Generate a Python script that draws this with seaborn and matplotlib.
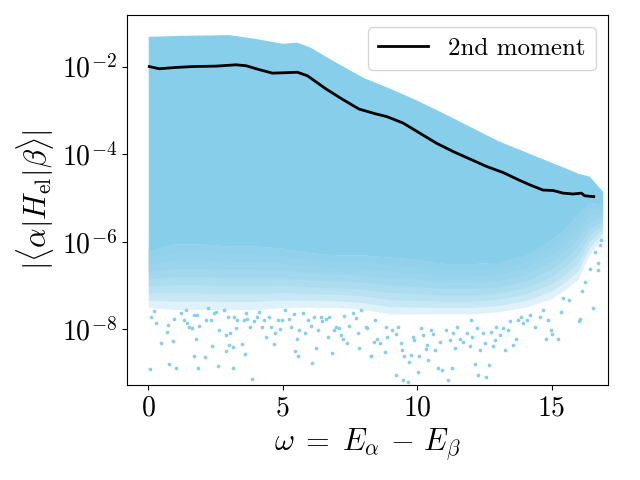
import numpy as np
import pandas as pd
import seaborn as sns
import matplotlib
matplotlib.use('Agg')
import matplotlib.pyplot as plt
from matplotlib.ticker import NullLocator

# envelope of the dense point cloud (log10 of |<a|H|b>|)
w_env = [0, 1, 2, 3, 4, 5, 5.5, 6, 7, 8, 9, 10, 11, 12, 13, 14, 15, 15.5, 16, 16.4, 16.9]
log_top = [-1.31, -1.29, -1.28, -1.27, -1.36, -1.47, -1.44, -1.55, -1.91, -2.25, -2.50,
           -2.77, -3.07, -3.38, -3.69, -3.94, -4.19, -4.31, -4.44, -4.50, -4.85]
# bottom of the solid part and bottom of the speckled fringe
log_solid = [-6.2, -6.05, -6.05, -6.1, -6.1, -6.15, -6.2, -6.25, -6.3, -6.3, -6.35,
             -6.4, -6.5, -6.5, -6.47, -6.32, -5.95, -5.7, -5.35, -5.1, -5.15]
log_fringe = [-7.5, -7.55, -7.55, -7.55, -7.55, -7.5, -7.5, -7.5, -7.5, -7.55, -7.65,
              -7.65, -7.65, -7.65, -7.6, -7.5, -7.3, -7.1, -6.85, -6.3, -5.9]

# sparse points below the cloud
tail_w = [0.075, 0.10, 0.22, 0.29, 0.48, 0.68, 0.72, 0.78, 0.93, 0.97, 1.03, 1.22, 1.34, 1.40,
          1.44, 1.53, 1.61, 1.69, 1.71, 1.77, 1.81, 1.86, 1.90, 2.11, 2.14, 2.21, 2.33, 2.38,
          2.45, 2.52, 2.60, 2.64, 2.83, 2.89, 2.91, 2.95, 3.01, 3.05, 3.14, 3.16, 3.20, 3.26,
          3.32, 3.50, 3.55, 3.61, 3.63, 3.69, 3.79, 3.85, 3.94, 4.04, 4.13, 4.23, 4.31, 4.38,
          4.50, 4.56, 4.69, 4.72, 4.81, 4.91, 4.99, 5.08, 5.22, 5.32, 5.43, 5.47, 5.53, 5.58,
          5.61, 5.74, 5.84, 5.93, 6.05, 6.10, 6.17, 6.25, 6.33, 6.42, 6.48, 6.61, 6.67, 6.73,
          6.83, 6.92, 7.00, 7.10, 7.16, 7.23, 7.29, 7.41, 7.47, 7.60, 7.72, 7.81, 7.85, 7.91,
          8.09, 8.15, 8.28, 8.40, 8.44,
          8.30, 8.49, 8.61, 8.80, 8.86, 8.89, 9.05, 9.21, 9.21, 9.30, 9.39, 9.42, 9.48, 9.52,
          9.67, 9.70, 9.79, 9.85, 9.89, 10.04, 10.08, 10.16, 10.22, 10.32, 10.37, 10.41, 10.53,
          10.60, 10.66, 10.78, 10.84, 10.91, 11.09, 11.15, 11.22, 11.28, 11.34, 11.40, 11.49,
          11.59, 11.69, 11.84, 11.96, 12.02, 12.06, 12.14, 12.21, 12.27, 12.33, 12.46, 12.52,
          12.58, 12.68, 12.73, 12.83, 12.89, 12.95, 13.08, 13.20, 13.26, 13.39, 13.45, 13.57,
          13.69, 13.76, 13.88, 13.94, 14.07, 14.19, 14.38, 14.56, 14.69, 14.78, 14.87, 14.99,
          15.03, 15.24, 15.37, 15.43, 15.65, 16.02, 16.05, 16.14, 16.23, 16.42, 16.54, 16.73,
          16.73, 16.62, 16.79, 16.85]
tail_logh = [-8.91, -7.71, -7.57, -7.86, -8.32, -8.06, -7.91, -8.80, -8.27, -7.77, -8.89, -7.63,
             -7.79, -7.56, -7.86, -7.94, -7.98, -8.61, -7.67, -8.21, -7.67, -8.89, -7.92, -8.64,
             -7.79, -7.52, -7.79, -8.38, -7.63, -7.60, -8.84, -8.02, -7.56, -8.13, -8.50, -7.71,
             -8.36, -8.09, -8.40, -8.89, -7.71, -7.98, -7.79, -8.34, -7.79, -8.57, -7.63, -7.76,
             -7.94, -9.14, -7.82, -7.71, -7.60, -7.94, -7.79, -8.17, -7.71, -7.94, -8.34, -8.09,
             -7.79, -8.00, -7.79, -7.56, -7.77, -7.94, -7.65, -8.49, -8.23, -8.62, -8.02, -7.63,
             -8.09, -7.79, -7.92, -8.78, -7.71, -8.43, -8.02, -7.71, -7.80, -7.77, -8.17, -7.71,
             -8.55, -8.02, -7.94, -7.98, -8.13, -8.23, -7.70, -8.32, -7.92, -7.62, -7.75, -8.09,
             -8.42, -7.56, -7.94, -7.98, -8.61, -8.28, -7.79,
             -8.62, -8.21, -8.32, -8.51, -7.95, -8.17, -8.02, -8.11, -9.04, -7.94, -8.32, -8.47,
             -9.16, -8.62, -9.21, -8.74, -8.59, -8.17, -8.24, -8.98, -8.62, -7.98, -8.13, -8.46,
             -8.36, -8.69, -8.02, -8.11, -8.47, -8.88, -8.28, -8.93, -8.02, -9.16, -8.24, -8.89,
             -8.09, -8.43, -7.95, -8.23, -8.28, -8.09, -8.38, -7.79, -8.17, -8.79, -7.98, -9.04,
             -8.47, -8.09, -8.32, -9.08, -8.81, -8.05, -8.38, -8.24, -7.94, -8.13, -7.98, -8.47,
             -8.02, -7.82, -8.36, -8.23, -7.79, -7.71, -7.86, -7.79, -7.67, -7.94, -7.71, -7.56,
             -8.21, -7.79, -8.02, -8.11, -8.23, -7.60, -7.29, -7.33, -7.82, -7.77, -7.12, -6.91,
             -6.63, -7.52, -6.65, -6.48, -6.23, -6.07, -5.96]

# second moment curve
mom_w = [0.04, 0.41, 1.03, 1.65, 2.52, 3.26, 3.63, 4.13, 4.62, 5.12, 5.55, 5.92, 6.61, 7.23,
         7.84, 8.46, 8.86, 9.48, 10.10, 10.72, 11.34, 11.96, 12.58, 13.20, 13.82, 14.19,
         14.68, 15.06, 15.43, 15.80, 16.11, 16.23, 16.57]
mom_logh = [-2.00, -2.05, -2.02, -2.00, -1.99, -1.96, -1.98, -2.07, -2.15, -2.14, -2.13, -2.21,
            -2.51, -2.75, -2.97, -3.08, -3.14, -3.29, -3.52, -3.75, -3.94, -4.11, -4.28, -4.42,
            -4.60, -4.70, -4.82, -4.83, -4.89, -4.91, -4.89, -4.95, -4.97]

plt.rcParams['font.family'] = 'serif'
plt.rcParams['font.serif'] = ['cmr10']
plt.rcParams['mathtext.fontset'] = 'cm'
plt.rcParams['axes.formatter.use_mathtext'] = True

blue = 'skyblue'

fig, ax = plt.subplots(figsize=(6.4, 4.8), dpi=100)
w_env = np.array(w_env)
lo_s = np.array(log_solid)
lo_f = np.array(log_fringe)
ax.fill_between(w_env, 10**lo_s, 10**np.array(log_top), color=blue, lw=0)
# speckled fringe: stacked translucent layers fading out downwards
for frac in np.linspace(0.12, 1.0, 8):
    ax.fill_between(w_env, 10**(lo_s + frac * (lo_f - lo_s)), 10**lo_s,
                    color=blue, lw=0, alpha=0.25)

tail = pd.DataFrame({'w': tail_w, 'h': 10**np.array(tail_logh)})
sns.scatterplot(data=tail, x='w', y='h', ax=ax, color=blue, s=7, linewidth=0)

mom = pd.DataFrame({'w': mom_w, 'h': 10**np.array(mom_logh)})
sns.lineplot(data=mom, x='w', y='h', ax=ax, color='black', lw=2, label='2nd moment')

ax.set_yscale('log')
ax.set_xlim(-0.8, 17.1)
ax.set_ylim(10**-9.27, 10**-0.82)
ax.set_yticks([1e-8, 1e-6, 1e-4, 1e-2])
ax.yaxis.set_minor_locator(NullLocator())
ax.set_xticks([0, 5, 10, 15])
ax.tick_params(labelsize=20)
ax.set_xlabel(r'$\omega \;=\; E_\alpha \,-\, E_\beta$', fontsize=22)
ax.set_ylabel(r'$|\langle\alpha|H_{\mathrm{el}}|\beta\rangle|$', fontsize=22)
ax.legend(loc='upper right', fontsize=18)

fig.subplots_adjust(left=0.198, right=0.950, bottom=0.198, top=0.969)
fig.savefig('out.png', dpi=100)
